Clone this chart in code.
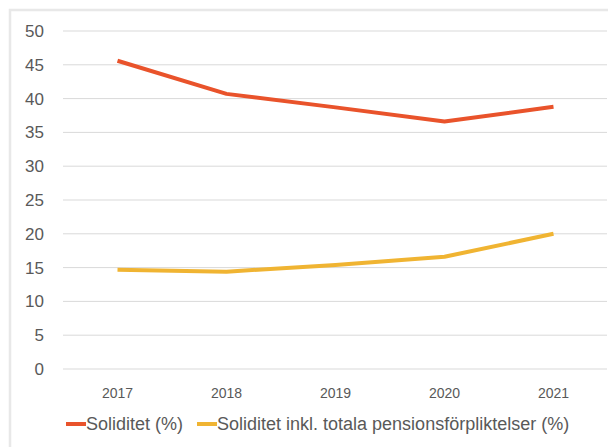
<!DOCTYPE html>
<html>
<head>
<meta charset="utf-8">
<script src="https://cdn.jsdelivr.net/npm/d3@7"></script>
<style>
  body { margin: 0; background: #fff; }
  text { font-family: 'Liberation Sans', Arial, sans-serif; fill: #595959; }
</style>
</head>
<body>
<div id="chart"></div>
<script>
const years = ['2017', '2018', '2019', '2020', '2021'];
const soliditet = [45.6, 40.7, 38.7, 36.6, 38.8];
const soliditetInkl = [14.7, 14.4, 15.4, 16.6, 20.0];
const yTicks = [0, 5, 10, 15, 20, 25, 30, 35, 40, 45, 50];
const seriesNames = ['Soliditet (%)', 'Soliditet inkl. totala pensionsförpliktelser (%)'];

const drawChart = () => {
  let width = 608;
  let height = 447;
  let margin = { top: 31, right: 1, bottom: 78, left: 63 };

  let svg = d3
    .select('#chart')
    .append('svg')
    .attr('width', width)
    .attr('height', height);

  // light frame around the chart area (cropped at right/bottom)
  svg
    .append('rect')
    .attr('x', 10)
    .attr('y', 10)
    .attr('width', width + 20)
    .attr('height', height + 20)
    .attr('fill', 'none')
    .attr('stroke', '#e8e8e8')
    .attr('stroke-width', 2.5);

  let xScale = d3
    .scaleBand()
    .domain(years)
    .range([margin.left, width - margin.right + 1]);

  let yScale = d3
    .scaleLinear()
    .domain([0, 50])
    .range([height - margin.bottom, margin.top]);

  // gridlines
  svg
    .selectAll('.grid')
    .data(yTicks)
    .enter()
    .append('line')
    .attr('x1', margin.left)
    .attr('x2', width - margin.right)
    .attr('y1', (d) => yScale(d))
    .attr('y2', (d) => yScale(d))
    .attr('stroke', '#d9d9d9')
    .attr('stroke-width', 1);

  // y labels
  svg
    .selectAll('.ylab')
    .data(yTicks)
    .enter()
    .append('text')
    .attr('x', 44)
    .attr('y', (d) => yScale(d))
    .attr('dy', '0.35em')
    .attr('text-anchor', 'end')
    .style('font-size', '17px')
    .text((d) => d);

  // x labels
  svg
    .selectAll('.xlab')
    .data(years)
    .enter()
    .append('text')
    .attr('x', (d) => xScale(d) + xScale.bandwidth() / 2)
    .attr('y', 393)
    .attr('dy', '0.35em')
    .attr('text-anchor', 'middle')
    .style('font-size', '14px')
    .text((d) => d);

  let line = d3
    .line()
    .x((d, i) => xScale(years[i]) + xScale.bandwidth() / 2)
    .y((d) => yScale(d));

  let colors = ['#e9532b', '#f0b432'];
  [soliditet, soliditetInkl].forEach((values, i) => {
    svg
      .append('path')
      .datum(values)
      .attr('fill', 'none')
      .attr('stroke', colors[i])
      .attr('stroke-width', 4)
      .attr('stroke-linejoin', 'round')
      .attr('d', line);
  });

  // legend
  let legendX = [66, 197];
  seriesNames.forEach((name, i) => {
    let g = svg.append('g').attr('transform', `translate(${legendX[i]}, 424)`);
    g.append('line')
      .attr('x1', 0)
      .attr('x2', 20)
      .attr('stroke', colors[i])
      .attr('stroke-width', 4);
    g.append('text')
      .attr('x', 20)
      .attr('dy', '0.35em')
      .style('font-size', '18px')
      .text(name);
  });
};

drawChart();
</script>
</body>
</html>
